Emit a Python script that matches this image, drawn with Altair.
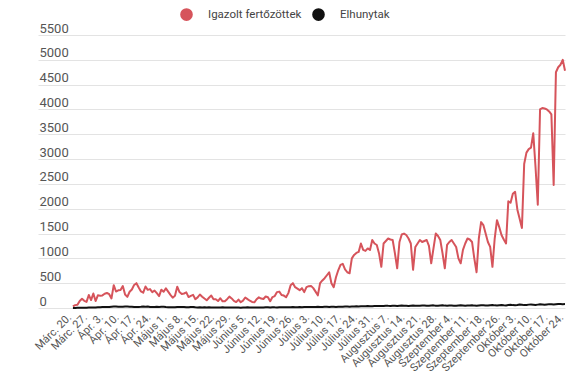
import json
import altair as alt
import pandas as pd

series_names = ["Igazolt fertőzöttek", "Elhunytak"]
series_colors = ["#d6545b", "#111111"]

tick_labels = [
    "Márc. 20.", "Márc. 27.", "Ápr. 3.", "Ápr. 10.", "Ápr. 17.", "Ápr. 24.",
    "Május 1.", "Május 8.", "Május 15.", "Május 22.", "Május 29.",
    "Június 5.", "Június 12.", "Június 19.", "Június 26.",
    "Július 3.", "Július 10.", "Július 17.", "Július 24.", "Július 31.",
    "Augusztus 7.", "Augusztus 14.", "Augusztus 21.", "Augusztus 28.",
    "Szeptember 4.", "Szeptember 11.", "Szeptember 18.", "Szeptember 26.",
    "Október 3.", "Október 10.", "Október 17.", "Október 24.",
]

confirmed = [
    31, 58, 66, 143, 186, 144, 123,
    263, 160, 293, 140, 255, 249, 254,
    286, 302, 278, 193, 460, 332, 356,
    364, 442, 271, 224, 327, 373, 465,
    500, 412, 333, 308, 433, 366, 381,
    320, 352, 298, 240, 369, 327, 396,
    330, 265, 208, 245, 430, 321, 283,
    292, 315, 220, 245, 265, 178, 214,
    272, 228, 190, 155, 207, 252, 175,
    177, 140, 197, 134, 136, 178, 229,
    193, 144, 119, 170, 116, 148, 211,
    178, 147, 122, 115, 176, 214, 191,
    181, 232, 217, 136, 220, 240, 320,
    330, 262, 250, 216, 300, 460, 500,
    420, 390, 360, 400, 320, 420, 440,
    445, 400, 330, 255, 500, 555, 600,
    660, 720, 500, 420, 620, 760, 870,
    890, 780, 720, 700, 1000, 1070, 1110,
    1130, 1300, 1170, 1150, 1200, 1170, 1370,
    1300, 1270, 1100, 830, 1300, 1350, 1400,
    1380, 1370, 1100, 800, 1330, 1480, 1500,
    1470, 1400, 1300, 770, 1230, 1300, 1370,
    1330, 1350, 1370, 1250, 900, 1200, 1500,
    1450, 1370, 1100, 800, 1270, 1330, 1370,
    1300, 1230, 1000, 900, 1170, 1300, 1400,
    1380, 1330, 1000, 720, 1400, 1730, 1670,
    1500, 1330, 1230, 830, 1400, 1770, 1630,
    1470, 1380, 1300, 2150, 2120, 2300, 2340,
    1980, 1800, 1610, 2900, 3130, 3200, 3230,
    3520, 2840, 2080, 4000, 4030, 4020, 4000,
    3960, 3900, 2480, 4750, 4850, 4900, 5000,
    4780,
]

deaths = [
    2, 1, 4, 5, 6, 5, 5,
    8, 9, 10, 12, 15, 16, 18,
    20, 18, 22, 25, 28, 30, 26,
    24, 25, 30, 28, 26, 27, 22,
    20, 22, 24, 30, 25, 28, 20,
    22, 18, 25, 20, 23, 25, 19,
    17, 15, 16, 14, 18, 22, 20,
    19, 16, 14, 18, 20, 15, 12,
    14, 12, 15, 10, 13, 12, 11,
    10, 9, 12, 13, 10, 11, 9,
    8, 10, 11, 9, 7, 10, 12,
    13, 11, 10, 12, 9, 8, 10,
    11, 14, 13, 12, 15, 13, 12,
    14, 16, 15, 13, 17, 16, 18,
    15, 17, 19, 16, 20, 18, 22,
    20, 18, 21, 24, 19, 22, 25,
    23, 21, 26, 24, 22, 25, 27,
    25, 28, 30, 26, 29, 31, 33,
    30, 35, 33, 36, 38, 34, 37,
    40, 38, 42, 39, 41, 45, 43,
    42, 47, 44, 40, 45, 48, 46,
    44, 41, 46, 50, 47, 43, 45,
    48, 52, 46, 44, 49, 53, 47,
    45, 50, 55, 48, 46, 51, 49,
    47, 44, 50, 53, 49, 46, 52,
    50, 55, 48, 46, 52, 57, 54,
    51, 49, 56, 60, 53, 50, 55,
    58, 54, 52, 60, 65, 58, 55,
    60, 72, 66, 58, 62, 68, 70,
    66, 62, 68, 75, 70, 65, 72,
    78, 74, 70, 76, 82, 80, 78,
    80,
]

y_ticks = list(range(0, 5501, 500))

rows = []
for i, v in enumerate(confirmed):
    rows.append({"nap": i, "ertek": v, "sor": series_names[0], "rend": 0})
for i, v in enumerate(deaths):
    rows.append({"nap": i, "ertek": v, "sor": series_names[1], "rend": 1})
df = pd.DataFrame(rows)

n_days = len(confirmed)
x_values = list(range(0, n_days, 7))
label_expr = json.dumps(tick_labels, ensure_ascii=False) + "[round(datum.value / 7)]"

x_enc = alt.X(
    "nap:Q",
    scale=alt.Scale(domain=[-15.4, n_days - 1], nice=False, zero=False),
    axis=alt.Axis(
        values=x_values,
        labelExpr=label_expr,
        labelAngle=315,
        labelAlign="right",
        labelBaseline="bottom",
        labelPadding=11,
        labelFontSize=11,
        labelColor="#555555",
        grid=False,
        domain=False,
        ticks=False,
        title=None,
        labelOverlap=False,
    ),
)
y_enc = alt.Y(
    "ertek:Q",
    scale=alt.Scale(domain=[0, 5500], nice=False),
    axis=alt.Axis(
        values=y_ticks,
        format="d",
        labelAlign="left",
        labelBaseline="alphabetic",
        labelPadding=-1,
        labelOffset=-3,
        labelFontSize=13,
        labelColor="#555555",
        grid=True,
        gridColor="#e3e3e3",
        gridWidth=1,
        domain=False,
        ticks=False,
        title=None,
    ),
)
color_scale = alt.Scale(domain=series_names, range=series_colors)

base = alt.Chart(df)

lines = base.mark_line(strokeWidth=2, strokeJoin="round").encode(
    x=x_enc,
    y=y_enc,
    color=alt.Color("sor:N", scale=color_scale, legend=None),
    order=alt.Order("rend:Q"),
)

legend_points = base.mark_circle(opacity=0, size=1).encode(
    x=x_enc,
    y=y_enc,
    color=alt.Color(
        "sor:N",
        scale=color_scale,
        legend=alt.Legend(
            title=None,
            orient="none",
            direction="horizontal",
            legendX=142,
            legendY=-27,
            symbolType="circle",
            symbolSize=160,
            symbolOpacity=1,
            symbolStrokeWidth=0,
            labelFontSize=11.5,
            labelColor="#444444",
            labelOffset=15,
            columnPadding=10,
            padding=0,
        ),
    ),
)

chart = (
    alt.layer(lines, legend_points)
    .resolve_legend(color="independent")
    .properties(
        width=527,
        height=273,
        autosize=alt.AutoSizeParams(type="none"),
        padding={"left": 30, "top": 27, "right": 2, "bottom": 71},
    )
    .configure(font="Roboto")
    .configure_view(stroke=None)
)

chart.save("out.html", embed_options={"renderer": "svg", "actions": False})
